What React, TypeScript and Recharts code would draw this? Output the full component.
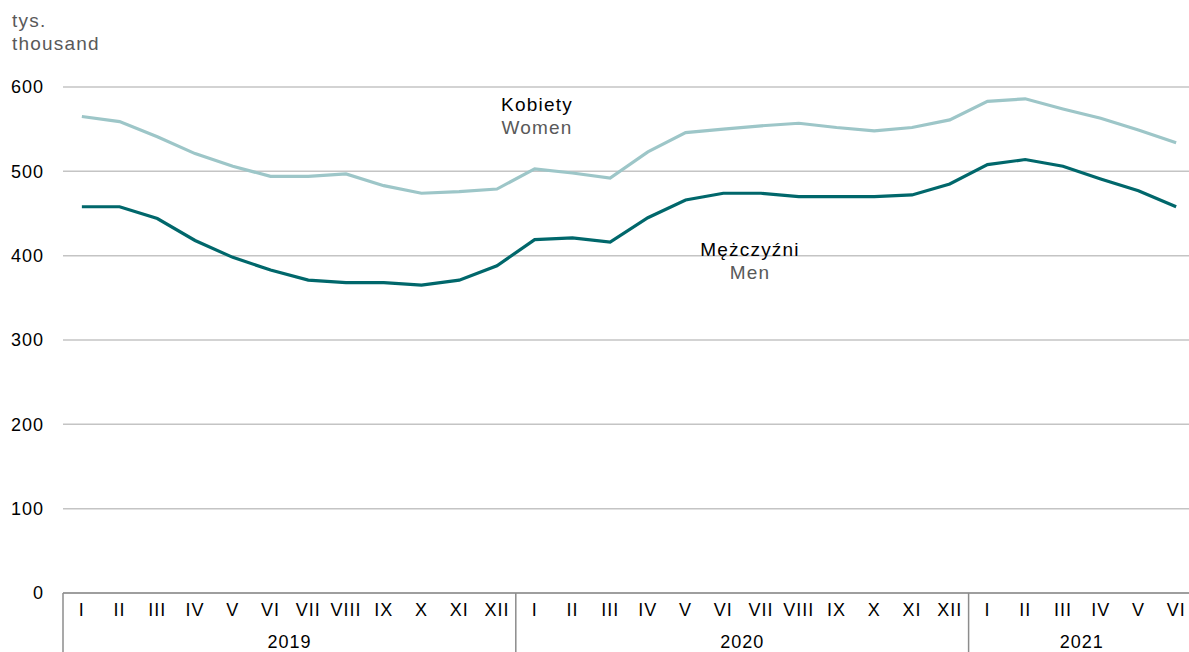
import React from 'react';
import { LineChart, Line, XAxis, YAxis, CartesianGrid } from 'recharts';

const months = [
  'I', 'II', 'III', 'IV', 'V', 'VI', 'VII', 'VIII', 'IX', 'X', 'XI', 'XII',
  'I', 'II', 'III', 'IV', 'V', 'VI', 'VII', 'VIII', 'IX', 'X', 'XI', 'XII',
  'I', 'II', 'III', 'IV', 'V', 'VI',
];
const years = [
  { label: '2019', start: 0, count: 12 },
  { label: '2020', start: 12, count: 12 },
  { label: '2021', start: 24, count: 6 },
];
const women = [
  565, 559, 541, 521, 506, 494, 494, 497, 483, 474, 476, 479,
  503, 498, 492, 523, 546, 550, 554, 557, 552, 548, 552, 561,
  583, 586, 574, 563, 549, 534,
];
const men = [
  458, 458, 444, 418, 398, 383, 371, 368, 368, 365, 371, 388,
  419, 421, 416, 445, 466, 474, 474, 470, 470, 470, 472, 485,
  508, 514, 506, 491, 477, 458,
];
const yTicks = [0, 100, 200, 300, 400, 500, 600];

const data = months.map((m, i) => ({ key: `${i}`, month: m, women: women[i], men: men[i] }));

const W = 1195;
const H = 652;
const LEFT = 63;
// point scale on a line chart: pad half a band on each side so months sit in the middle of their slots
const band = (W - LEFT) / months.length;
const font = '"Liberation Sans", Arial, sans-serif';
const axisGray = '#8c8c8c';

const MonthTick = (props: any) => {
  const { x, y, payload } = props;
  const i = Number(payload.value);
  const year = years.find((yr) => yr.start === i);
  return (
    <g>
      <text x={x} y={y + 23} textAnchor="middle" fontSize={18} letterSpacing={1} fill="#000" fontFamily={font}>
        {months[i]}
      </text>
      {year && (
        <>
          <line x1={x - band / 2} x2={x - band / 2} y1={y} y2={H} stroke={axisGray} strokeWidth={1.5} />
          <text
            x={x - band / 2 + (year.count * band) / 2}
            y={y + 55}
            textAnchor="middle"
            fontSize={18}
            letterSpacing={1}
            fill="#000"
            fontFamily={font}
          >
            {year.label}
          </text>
        </>
      )}
    </g>
  );
};

export default function App() {
  return (
    <div style={{ position: 'absolute', left: 0, top: 0, width: 1189, height: H, overflow: 'hidden', background: '#fff' }}>
      <LineChart width={W} height={H} data={data} margin={{ top: 87, right: 0, left: 18, bottom: 0 }}>
        <CartesianGrid horizontal vertical={false} stroke="#c4c4c4" strokeWidth={1.5} />
        <XAxis
          dataKey="key"
          axisLine={{ stroke: axisGray, strokeWidth: 1.5 }}
          tickLine={false}
          tickSize={0}
          tickMargin={0}
          height={59}
          interval={0}
          padding={{ left: band / 2, right: band / 2 }}
          tick={<MonthTick />}
        />
        <YAxis
          domain={[0, 600]}
          ticks={yTicks}
          width={45}
          axisLine={false}
          tickLine={false}
          tickSize={0}
          tickMargin={19}
          tick={{ fill: '#000', fontSize: 18, fontFamily: font, letterSpacing: 1 }}
        />
        <Line type="linear" dataKey="women" stroke="#9dc6c8" strokeWidth={3.2} dot={false} isAnimationActive={false} />
        <Line type="linear" dataKey="men" stroke="#00676b" strokeWidth={3.2} dot={false} isAnimationActive={false} />
      </LineChart>
      <svg width={1189} height={H} style={{ position: 'absolute', left: 0, top: 0, pointerEvents: 'none' }} fontFamily={font} fontSize={19} letterSpacing={1.2}>
        <text x={12} y={27} fill="#595959">tys.</text>
        <text x={12} y={50} fill="#595959">thousand</text>
        <text x={537} y={111} textAnchor="middle" fill="#000">Kobiety</text>
        <text x={537} y={134} textAnchor="middle" fill="#595959">Women</text>
        <text x={750} y={256} textAnchor="middle" fill="#000">Mężczyźni</text>
        <text x={750} y={279} textAnchor="middle" fill="#595959">Men</text>
      </svg>
    </div>
  );
}
